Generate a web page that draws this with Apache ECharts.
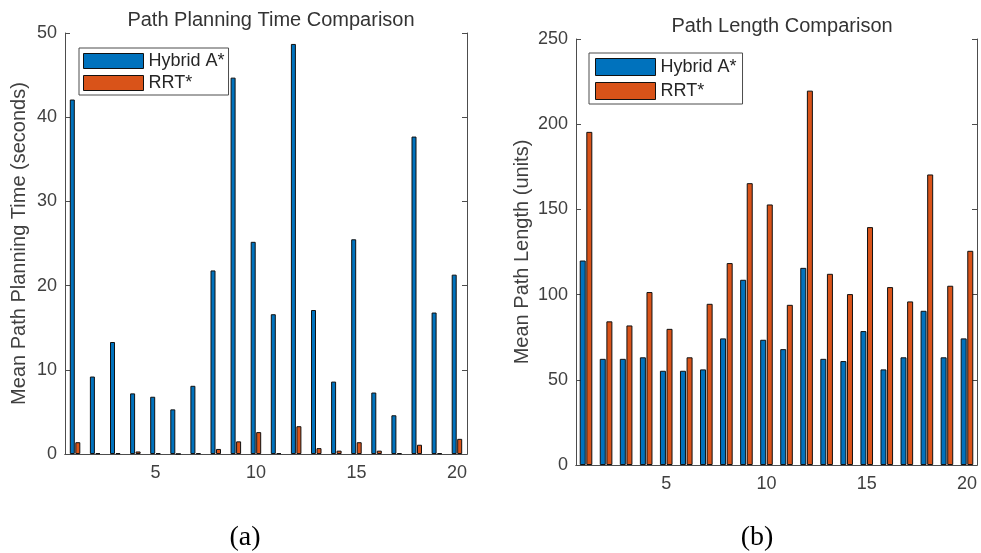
<!DOCTYPE html>
<html>
<head>
<meta charset="utf-8">
<script src="https://cdn.jsdelivr.net/npm/echarts@6/dist/echarts.min.js"></script>
<style>
  html, body { margin: 0; padding: 0; background: #fff; }
  #chart { width: 981px; height: 553px; }
</style>
</head>
<body>
<div id="chart"></div>
<script>
// scenario index 1..20
const scenarios = ['1','2','3','4','5','6','7','8','9','10','11','12','13','14','15','16','17','18','19','20']

// (a) planning time, seconds
const timeHybrid = [42.1, 9.2, 13.3, 7.2, 6.8, 5.3, 8.1, 21.8, 44.7, 25.2, 16.6, 48.7, 17.1, 8.6, 25.5, 7.3, 4.6, 37.7, 16.8, 21.3]
const timeRrt = [1.4, 0.1, 0.1, 0.3, 0.1, 0.02, 0.1, 0.6, 1.5, 2.6, 0.1, 3.3, 0.7, 0.4, 1.4, 0.4, 0.1, 1.1, 0.1, 1.8]

// (b) path length, units
const lenHybrid = [120, 62.3, 62.3, 63.2, 55.3, 55.3, 56.1, 74.3, 108.7, 73.5, 68, 115.7, 62.3, 61, 78.6, 56.1, 63.2, 90.5, 63.2, 74.3]
const lenRrt = [195.5, 84.3, 81.9, 101.5, 79.9, 63.2, 94.6, 118.5, 165.4, 152.9, 94, 219.7, 112.2, 100.3, 139.6, 104.4, 96, 170.5, 105.2, 125.7]

const yTicksTime = { min: 0, max: 50, interval: 10 }
const yTicksLen = { min: 0, max: 250, interval: 50 }

const FONT = 'Liberation Sans'
const AXIS = '#4d4d4d'
const TXT = '#404040'
const BLUE = '#0072BD'
const ORANGE = '#D95319'

const every5 = (i) => (i + 1) % 5 === 0

function xAxes(grid) {
  const base = {
    type: 'category',
    gridIndex: grid,
    data: scenarios,
    axisLine: { lineStyle: { color: AXIS, width: 1 } },
    axisTick: { alignWithLabel: true, inside: true, length: 5, interval: every5, lineStyle: { color: AXIS } },
    splitLine: { show: false }
  }
  return [
    Object.assign({}, base, {
      position: 'bottom',
      axisLabel: { interval: every5, color: TXT, fontSize: 18, fontFamily: FONT, margin: 10 }
    }),
    Object.assign({}, base, { position: 'top', axisLabel: { show: false } })
  ]
}

function yAxes(grid, ticks, name, gap) {
  const base = {
    type: 'value',
    gridIndex: grid,
    min: ticks.min,
    max: ticks.max,
    interval: ticks.interval,
    axisLine: { show: true, lineStyle: { color: AXIS, width: 1 } },
    axisTick: { show: true, inside: true, length: 5, lineStyle: { color: AXIS } },
    splitLine: { show: false }
  }
  return [
    Object.assign({}, base, {
      position: 'left',
      name: name,
      nameLocation: 'middle',
      nameGap: gap,
      nameTextStyle: { color: TXT, fontSize: 20, fontFamily: FONT },
      axisLabel: { color: TXT, fontSize: 18, fontFamily: FONT, margin: 8 }
    }),
    Object.assign({}, base, { position: 'right', axisLabel: { show: false } })
  ]
}

function bars(name, data, color, xi, yi, w) {
  return {
    name: name,
    type: 'bar',
    xAxisIndex: xi,
    yAxisIndex: yi,
    data: data,
    barWidth: w,
    barGap: '10%',
    itemStyle: { color: color, borderColor: '#111', borderWidth: 1 },
    animation: false
  }
}

function legend(left, top, h, gap, pad) {
  return {
    orient: 'vertical',
    left: left,
    top: top,
    itemWidth: 60,
    itemHeight: h,
    itemGap: gap,
    padding: pad,
    icon: 'rect',
    backgroundColor: '#fff',
    borderColor: AXIS,
    borderWidth: 1,
    borderRadius: 0,
    textStyle: { color: '#262626', fontSize: 18, fontFamily: FONT },
    itemStyle: { borderColor: '#111', borderWidth: 1 },
    data: ['Hybrid A*', 'RRT*']
  }
}

const chart = echarts.init(document.getElementById('chart'))
chart.setOption({
  backgroundColor: '#fff',
  animation: false,
  textStyle: { fontFamily: FONT },
  title: [
    { text: 'Path Planning Time Comparison', left: 266, top: 5, textAlign: 'center',
      textStyle: { color: '#333', fontSize: 20, fontWeight: 'normal', fontFamily: FONT } },
    { text: 'Path Length Comparison', left: 777, top: 11, textAlign: 'center',
      textStyle: { color: '#333', fontSize: 20, fontWeight: 'normal', fontFamily: FONT } },
    { text: '(a)', left: 240, top: 519, textAlign: 'center',
      textStyle: { color: '#000', fontSize: 28, fontWeight: 'normal', fontFamily: 'Liberation Serif' } },
    { text: '(b)', left: 752, top: 519, textAlign: 'center',
      textStyle: { color: '#000', fontSize: 28, fontWeight: 'normal', fontFamily: 'Liberation Serif' } }
  ],
  legend: [
    legend(79, 48, 15, 4, [4, 4, 3, 4]),
    legend(589, 53, 17, 6, [5, 6, 4, 6])
  ],
  grid: [
    { left: 65, top: 33, width: 402, height: 421 },
    { left: 576, top: 39, width: 401, height: 426 }
  ],
  xAxis: xAxes(0).concat(xAxes(1)),
  yAxis: yAxes(0, yTicksTime, 'Mean Path Planning Time (seconds)', 36)
    .concat(yAxes(1, yTicksLen, 'Mean Path Length (units)', 44)),
  series: [
    bars('Hybrid A*', timeHybrid, BLUE, 0, 0, 5),
    bars('RRT*', timeRrt, ORANGE, 0, 0, 5),
    bars('Hybrid A*', lenHybrid, BLUE, 2, 2, 6),
    bars('RRT*', lenRrt, ORANGE, 2, 2, 6)
  ]
})
</script>
</body>
</html>
